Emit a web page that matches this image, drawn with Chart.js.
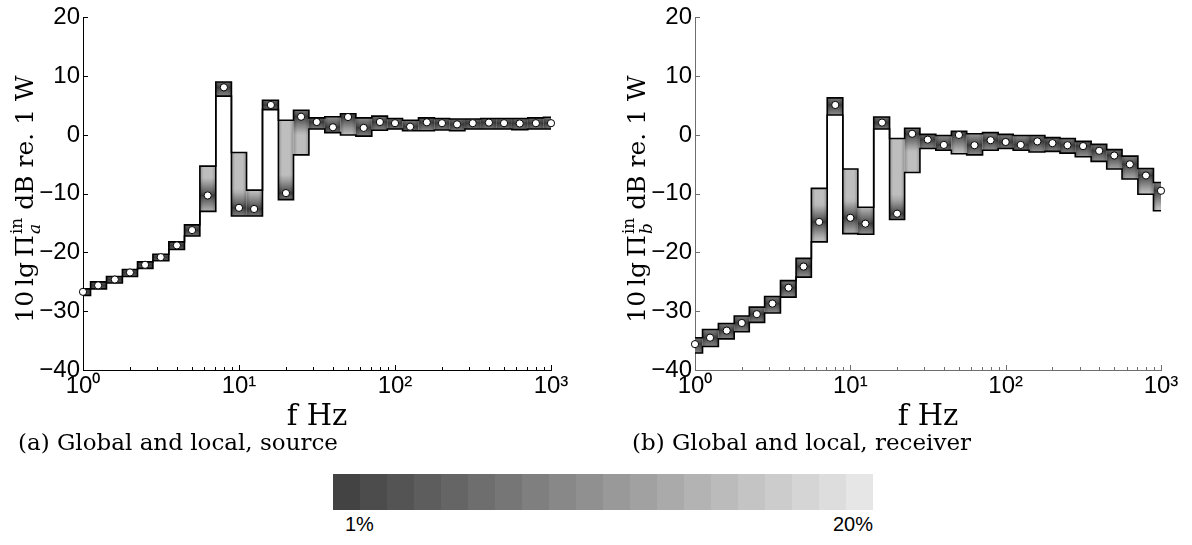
<!DOCTYPE html>
<html>
<head>
<meta charset="utf-8">
<script src="https://cdn.jsdelivr.net/npm/chart.js@4.4.1/dist/chart.umd.min.js"></script>
<style>
  html, body { margin: 0; padding: 0; background: #fff; }
  #wrap { position: relative; width: 1192px; height: 545px; overflow: hidden; background: #fff; }
  #wrap canvas { position: absolute; top: 0; }
  #panelA { left: 0; }
  #panelB { left: 596px; }
  #cbar { position: absolute; left: 333px; top: 474px; width: 540px; height: 36px; display: flex; }
  #cbar div { flex: 1 1 0; height: 100%; }
  .cbl { position: absolute; top: 513px; font: 20px "Liberation Sans", Arial, sans-serif; color: #000; }
</style>
</head>
<body>
<div id="wrap">
  <canvas id="panelA" width="596" height="460"></canvas>
  <canvas id="panelB" width="596" height="460"></canvas>
  <div id="cbar"></div>
  <div class="cbl" id="cbLo"></div>
  <div class="cbl" id="cbHi"></div>
</div>
<script>
// One-third-octave band centre frequencies, Hz
const bandCentres = [1, 1.25, 1.6, 2, 2.5, 3.15, 4, 5, 6.3, 8, 10, 12.5, 16, 20, 25, 31.5,
                     40, 50, 63, 80, 100, 125, 160, 200, 250, 315, 400, 500, 630, 800, 1000];

// (a) source: mean input power and band spread, dB re. 1 W
const meanA  = [-26.7, -25.6, -24.6, -23.4, -22.1, -20.8, -18.8, -16.2, -10.3, 8.1, -12.4, -12.6, 5.1, -9.9, 3.1, 2.2,
                1.3, 3.05, 1.2, 2.2, 2.0, 1.4, 2.15, 2.0, 1.8, 2.0, 2.1, 2.0, 1.95, 2.0, 2.0];
const upperA = [-26.2, -25.0, -24.1, -22.9, -21.6, -20.3, -18.2, -15.3, -5.3, 9.0, -3.0, -9.4, 5.9, 2.5, 4.2, 2.9,
                3.1, 3.6, 2.9, 3.2, 2.8, 2.5, 2.9, 2.8, 2.7, 2.7, 2.8, 2.8, 2.8, 2.9, 3.0];
const lowerA = [-27.3, -26.2, -25.2, -24.1, -22.7, -21.4, -19.5, -17.2, -13.0, 6.6, -13.8, -13.8, 4.3, -11.0, -3.4, 1.0,
                0.4, 0.0, -0.2, 0.8, 1.0, 0.7, 0.7, 0.85, 0.7, 1.0, 1.0, 1.0, 0.9, 1.0, 1.0];

// (b) receiver
const meanB  = [-35.6, -34.5, -33.3, -32.0, -30.5, -28.7, -26.0, -22.4, -14.8, 5.1, -14.1, -15.1, 2.1, -13.4, 0.2, -0.8,
                -1.7, 0.0, -1.75, -0.9, -1.2, -1.7, -1.1, -1.4, -1.75, -1.9, -2.7, -3.5, -5.0, -6.9, -9.5];
const upperB = [-34.5, -33.1, -32.1, -30.8, -29.3, -27.5, -24.8, -21.0, -9.1, 6.3, -5.8, -12.3, 3.05, -0.6, 1.15, 0.1,
                -0.1, 0.6, 0.2, 0.4, 0.1, -0.1, -0.1, -0.45, -0.6, -1.1, -1.6, -2.5, -3.6, -5.7, -8.1];
const lowerB = [-37.1, -36.0, -34.7, -33.5, -31.9, -30.3, -27.6, -24.2, -18.2, 3.4, -16.8, -16.9, 1.0, -14.4, -6.4, -2.3,
                -2.6, -3.2, -3.4, -2.6, -2.3, -2.6, -2.9, -2.8, -3.1, -3.7, -4.5, -5.8, -7.5, -10.1, -12.9];

// Axis ticks and labels
const yTickValues   = [20, 10, 0, -10, -20, -30, -40];
const xDecadeTicks  = [1, 10, 100, 1000];
const xDecadeLabels = ['10\u2070', '10\u00b9', '10\u00b2', '10\u00b3'];
const xMinorFactors = [2, 3, 4, 5, 6, 7, 8, 9];
const captions      = ['(a) Global and local, source', '(b) Global and local, receiver'];
const panelSubs     = ['a', 'b'];
const colorbarEnds  = ['1%', '20%'];
const colorbarSteps = 20;

const SANS  = '"Liberation Sans", Arial, Helvetica, sans-serif';
const SERIF = '"DejaVu Serif", "Liberation Serif", serif';

// grey level of the shading for a distance (dB) from the band mean
function shadeAt(d) {
  const t = Math.pow(Math.min(1, d / 3), 0.85);
  const L = Math.round(62 + 128 * t);
  return `rgb(${L},${L},${L})`;
}

function makePanel(canvasId, mean, upper, lower, cfg) {
  const pts = arr => bandCentres.map((f, i) => ({ x: f, y: arr[i] }));

  const decor = {
    id: 'panelDecor',
    beforeDatasetsDraw(chart) {
      const { ctx, chartArea: a, scales: { x, y } } = chart;
      const px = bandCentres.map(f => x.getPixelForValue(f));
      const n = px.length;
      ctx.save();
      ctx.beginPath();
      ctx.rect(a.left, a.top, a.right - a.left, a.bottom - a.top);
      ctx.clip();
      for (let i = 0; i < n; i++) {
        const xl = i === 0 ? px[0] - (px[1] - px[0]) / 2 : (px[i - 1] + px[i]) / 2;
        const xr = i === n - 1 ? px[n - 1] + (px[n - 1] - px[n - 2]) / 2 : (px[i] + px[i + 1]) / 2;
        const yt = y.getPixelForValue(upper[i]);
        const yb = y.getPixelForValue(lower[i]);
        const g = ctx.createLinearGradient(0, yt, 0, yb);
        const span = upper[i] - lower[i];
        const steps = 16;
        for (let k = 0; k <= steps; k++) {
          const v = upper[i] - span * k / steps;
          g.addColorStop(k / steps, shadeAt(Math.abs(v - mean[i])));
        }
        const fm = (upper[i] - mean[i]) / span;
        if (fm > 0 && fm < 1) g.addColorStop(fm, shadeAt(0));
        ctx.fillStyle = g;
        ctx.fillRect(xl, yt, xr - xl, yb - yt);
        // darker vertical rims of each band
        const h = ctx.createLinearGradient(xl, 0, xr, 0);
        h.addColorStop(0, 'rgba(0,0,0,0.22)');
        h.addColorStop(0.25, 'rgba(0,0,0,0)');
        h.addColorStop(0.75, 'rgba(0,0,0,0)');
        h.addColorStop(1, 'rgba(0,0,0,0.22)');
        ctx.fillStyle = h;
        ctx.fillRect(xl, yt, xr - xl, yb - yt);
      }
      ctx.restore();
    },
    afterDraw(chart) {
      const { ctx, chartArea: a, scales: { x, y } } = chart;
      ctx.save();
      // inward tick marks
      ctx.strokeStyle = cfg.axisColor;
      ctx.lineWidth = 1;
      ctx.beginPath();
      yTickValues.forEach(v => {
        const yy = Math.round(y.getPixelForValue(v)) + 0.5;
        ctx.moveTo(a.left, yy); ctx.lineTo(a.left + 5, yy);
      });
      xDecadeTicks.forEach(d => {
        const xx = Math.round(x.getPixelForValue(d)) + 0.5;
        ctx.moveTo(xx, a.bottom); ctx.lineTo(xx, a.bottom - 5);
        if (d < 1000) xMinorFactors.forEach(m => {
          const xm = Math.round(x.getPixelForValue(d * m)) + 0.5;
          ctx.moveTo(xm, a.bottom); ctx.lineTo(xm, a.bottom - 3);
        });
      });
      ctx.stroke();

      // x axis title
      ctx.fillStyle = '#000';
      ctx.font = `29px ${SERIF}`;
      ctx.textAlign = 'center';
      ctx.textBaseline = 'alphabetic';
      ctx.fillText('f Hz', (a.left + a.right) / 2, a.bottom + 55);

      // caption under the panel
      ctx.font = `23px ${SERIF}`;
      ctx.textAlign = 'left';
      ctx.fillText(cfg.caption, cfg.captionX, a.bottom + 80);

      // y axis title: 10 lg Π_sub^in dB re. 1 W, rotated
      const big = `25px ${SERIF}`, small = `17px ${SERIF}`, smallIt = `italic 17px ${SERIF}`;
      const partA = '10\u2009lg\u2009\u03a0', partB = ' dB re. 1 W';
      ctx.font = big;
      const wA = ctx.measureText(partA).width, wB = ctx.measureText(partB).width;
      ctx.font = smallIt; const wSub = ctx.measureText(cfg.sub).width;
      ctx.font = small;   const wSup = ctx.measureText('in').width;
      const wS = Math.max(wSub, wSup) + 1;
      const total = wA + wS + wB;
      ctx.translate(a.left - 50, 199);
      ctx.rotate(-Math.PI / 2);
      let cx = -total / 2;
      ctx.font = big;   ctx.fillText(partA, cx, 0); cx += wA;
      ctx.font = smallIt; ctx.fillText(cfg.sub, cx + 1, 7);
      ctx.font = small;   ctx.fillText('in', cx + 1, -11);
      cx += wS;
      ctx.font = big;   ctx.fillText(partB, cx, 0);
      ctx.restore();
    }
  };

  const tickFont = { family: SANS, size: 24 };

  return new Chart(document.getElementById(canvasId), {
    type: 'line',
    data: {
      datasets: [
        { label: 'mean', data: pts(mean), showLine: false, pointRadius: 3.6, pointHoverRadius: 3.6,
          pointBackgroundColor: '#fff', pointBorderColor: '#000', pointBorderWidth: 1, clip: 8, order: 0 },
        { label: 'upper', data: pts(upper), stepped: 'middle', borderColor: '#000', borderWidth: 1.6,
          pointRadius: 0, fill: false, order: 1 },
        { label: 'lower', data: pts(lower), stepped: 'middle', borderColor: '#000', borderWidth: 1.6,
          pointRadius: 0, fill: false, order: 1 }
      ]
    },
    options: {
      responsive: false,
      animation: false,
      devicePixelRatio: 1,
      events: [],
      layout: { padding: { left: 0, right: cfg.padRight, top: 16, bottom: 50 } },
      plugins: { legend: { display: false }, tooltip: { enabled: false }, title: { display: false } },
      scales: {
        x: {
          type: 'logarithmic', min: 1, max: 1000, position: 'bottom',
          afterBuildTicks: s => { s.ticks = xDecadeTicks.map(v => ({ value: v })); },
          afterFit: s => { s.height = 40; },
          grid: { display: false, drawTicks: false },
          border: { display: true, color: cfg.axisColor, width: 1 },
          ticks: {
            autoSkip: false, maxRotation: 0, padding: 2, color: '#000', font: tickFont,
            callback: v => { const k = xDecadeTicks.indexOf(v); return k >= 0 ? xDecadeLabels[k] : ''; }
          }
        },
        y: {
          type: 'linear', min: -40, max: 20, position: 'left',
          afterBuildTicks: s => { s.ticks = yTickValues.map(v => ({ value: v })); },
          afterFit: s => { s.width = cfg.yWidth; },
          grid: { display: false, drawTicks: false },
          border: { display: true, color: cfg.axisColor, width: 1 },
          ticks: {
            padding: 3, color: '#000', font: tickFont,
            callback: v => (v < 0 ? '\u2212' + Math.abs(v) : String(v))
          }
        }
      }
    },
    plugins: [decor]
  });
}

makePanel('panelA', meanA, upperA, lowerA,
  { axisColor: '#000', yWidth: 83, padRight: 45, sub: panelSubs[0], caption: captions[0], captionX: 18 });
makePanel('panelB', meanB, upperB, lowerB,
  { axisColor: '#6e6e6e', yWidth: 99, padRight: 31, sub: panelSubs[1], caption: captions[1], captionX: 632 - 596 });

// grey colour bar
const bar = document.getElementById('cbar');
for (let k = 0; k < colorbarSteps; k++) {
  const L = Math.round(0x43 + (0xe6 - 0x43) * k / (colorbarSteps - 1));
  const d = document.createElement('div');
  d.style.background = `rgb(${L},${L},${L})`;
  bar.appendChild(d);
}
const lo = document.getElementById('cbLo');
lo.textContent = colorbarEnds[0];
lo.style.left = '345px';
const hi = document.getElementById('cbHi');
hi.textContent = colorbarEnds[1];
hi.style.right = (1192 - 873) + 'px';
</script>
</body>
</html>
